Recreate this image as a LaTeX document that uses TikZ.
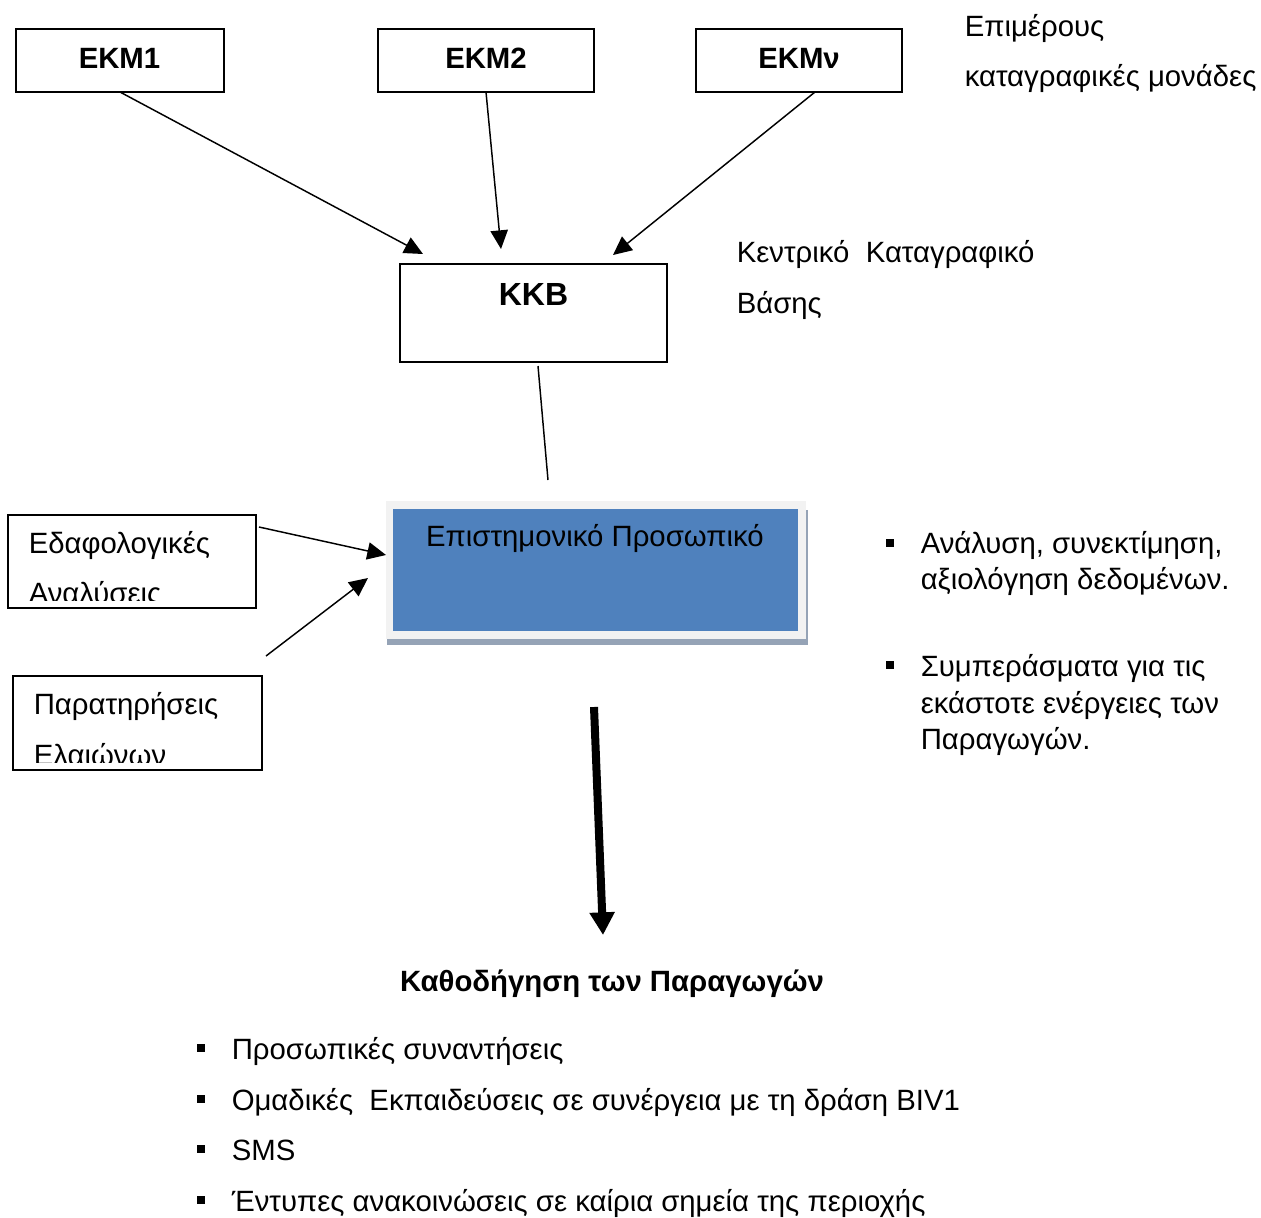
\documentclass[tikz,border=0pt]{standalone}
\usepackage{fontspec}
\setmainfont{Liberation Sans}
\usetikzlibrary{arrows.meta}
\definecolor{panelblue}{HTML}{4F81BD}
\definecolor{panelrim}{HTML}{F2F2F2}
\definecolor{panelshade}{HTML}{95A3B6}
\tikzset{
  boxnode/.style={draw=black,line width=1.1pt,fill=white,outer sep=0pt,inner sep=0pt},
  boldlabel/.style={font=\fontsize{22pt}{26pt}\selectfont\bfseries,inner sep=0pt,anchor=base},
  plain/.style={font=\fontsize{22pt}{26pt}\selectfont,inner sep=0pt,anchor=base west},
  thin arrow/.style={line width=1.1pt,-{Triangle[length=14pt,width=13pt]}},
  bigarrow/.style={line width=6pt,-{Triangle[length=17pt,width=18pt]}},
  bulletmark/.style={fill=black,inner sep=0pt,minimum size=6pt,outer sep=0pt},
}
\begin{document}
\begin{tikzpicture}[x=0.75pt,y=-0.75pt]
\useasboundingbox (0,0) rectangle (1261,1218);
% top boxes
\node[boxnode,minimum width=156pt,minimum height=47.25pt] (ekma) at (120,60.5) {};
\node[boxnode,minimum width=162pt,minimum height=47.25pt] (ekmb) at (486,60.5) {};
\node[boxnode,minimum width=154.5pt,minimum height=47.25pt] (ekmn) at (799,60.5) {};
\node[boldlabel] at (119.5,68) {ΕΚΜ1};
\node[boldlabel] at (486,68) {ΕΚΜ2};
\node[boldlabel] at (799,68) {ΕΚΜν};
\node[plain] at (964.5,36.5) {Επιμέρους};
\node[plain] at (964.5,86.5) {καταγραφικές μονάδες};
% central recorder
\node[boxnode,minimum width=200.25pt,minimum height=73.5pt] (kkb) at (533.5,313) {};
\node[boldlabel,font=\fontsize{24pt}{28pt}\selectfont\bfseries] at (533.5,305) {ΚΚΒ};
\node[plain] at (736.5,262) {Κεντρικό\ \ Καταγραφικό};
\node[plain] at (736.5,313) {Βάσης};
% arrows into KKB
\coordinate (ta) at (423,254);
\coordinate (tb) at (501,249);
\coordinate (tn) at (613,255);
\draw[thin arrow] (ekma.south) -- (ta);
\draw[thin arrow] (ekmb.south) -- (tb);
\draw[thin arrow] (815,92) -- (tn);
% line from KKB
\coordinate (kfrom) at (538,366);
\coordinate (kto) at (548,480);
\draw[line width=1.1pt] (kfrom) -- (kto);
% scientific staff panel
\fill[panelshade] (387,510) rectangle (808,645);
\fill[panelrim] (386,501) rectangle (806,639);
\node[fill=panelblue,inner sep=0pt,outer sep=0pt,minimum width=303.75pt,minimum height=91.5pt] (staff) at (595.5,570) {};
\node[font=\fontsize{22pt}{26pt}\selectfont,inner sep=0pt,anchor=base] at (595,546) {Επιστημονικό Προσωπικό};
% left boxes
\node[boxnode,minimum width=186pt,minimum height=69.75pt] (soil) at (132,561.5) {};
\node[boxnode,minimum width=186.75pt,minimum height=70.5pt] (obs) at (137.5,723) {};
\begin{scope}
\clip (10,517) rectangle (254,600);
\node[plain] at (28.5,553) {Εδαφολογικές};
\node[plain] at (28.5,603) {Αναλύσεις};
\end{scope}
\begin{scope}
\clip (15,678) rectangle (260,762);
\node[plain] at (33.5,714.5) {Παρατηρήσεις};
\node[plain] at (33.5,765) {Ελαιώνων};
\end{scope}
\coordinate (sfrom) at (259,527);
\coordinate (sto) at (386,555);
\coordinate (ofrom) at (266,656);
\coordinate (oto) at (368,578);
\draw[thin arrow] (sfrom) -- (sto);
\draw[thin arrow] (ofrom) -- (oto);
% right list
\node[bulletmark] (ra) at (889.5,543) {};
\node[plain] at (920.5,553) {Ανάλυση, συνεκτίμηση,};
\node[plain] at (920.5,589) {αξιολόγηση δεδομένων.};
\node[bulletmark] (rb) at (889.5,665) {};
\node[plain] at (920.5,676) {Συμπεράσματα για τις};
\node[plain] at (920.5,713) {εκάστοτε ενέργειες των};
\node[plain] at (920.5,749) {Παραγωγών.};
% big arrow
\coordinate (bfrom) at (594,707);
\coordinate (bto) at (603,935);
\draw[bigarrow] (bfrom) -- (bto);
% guidance
\node[boldlabel] at (612,991.5) {Καθοδήγηση των Παραγωγών};
\node[bulletmark] (la) at (200.5,1048) {};
\node[plain] at (231.5,1059) {Προσωπικές συναντήσεις};
\node[bulletmark] (lb) at (200.5,1099) {};
\node[plain] at (231.5,1110) {Ομαδικές\ \ Εκπαιδεύσεις σε συνέργεια με τη δράση ΒΙV1};
\node[bulletmark] (lc) at (200.5,1149) {};
\node[plain] at (231.5,1160) {SMS};
\node[bulletmark] (ld) at (200.5,1200) {};
\node[plain] at (231.5,1211) {Έντυπες ανακοινώσεις σε καίρια σημεία της περιοχής};
\end{tikzpicture}
\end{document}
